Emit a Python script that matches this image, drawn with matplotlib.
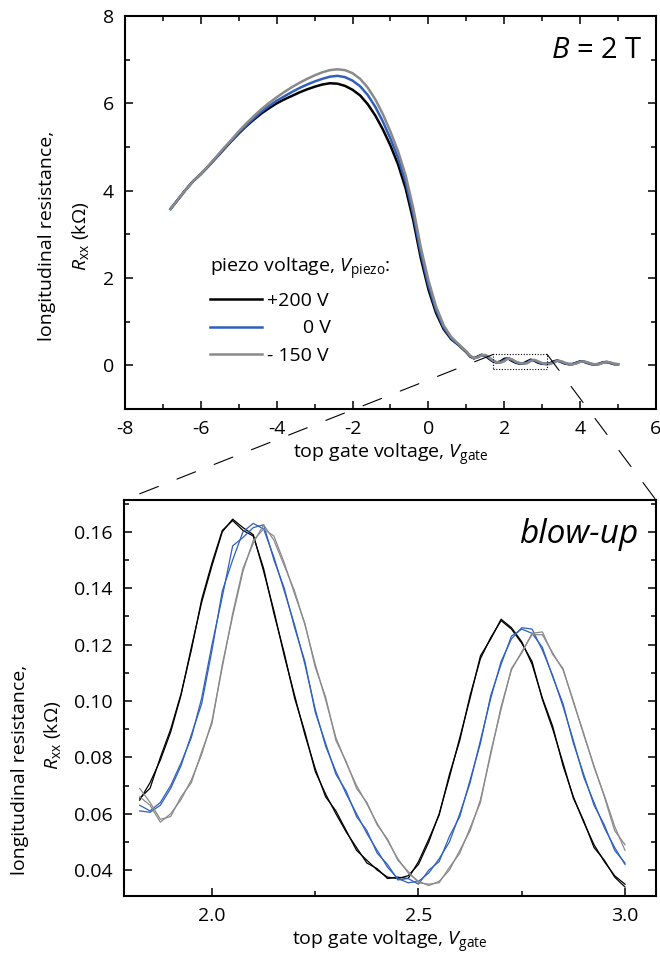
import matplotlib

matplotlib.use("Agg")
import matplotlib.pyplot as plt
from matplotlib.patches import ConnectionPatch, Rectangle
from matplotlib.ticker import FormatStrFormatter, MultipleLocator

plt.rcParams["font.family"] = ["Open Sans", "DejaVu Sans"]
plt.rcParams["mathtext.fontset"] = "custom"
plt.rcParams["mathtext.rm"] = "Open Sans"
plt.rcParams["mathtext.it"] = "Open Sans:italic"
plt.rcParams["axes.unicode_minus"] = False

# full sweep, top gate voltage (V) vs Rxx (kOhm)
gate_full = [
    -6.8, -6.6, -6.4, -6.2, -6.0, -5.8, -5.6, -5.4, -5.2, -5.0,
    -4.8, -4.6, -4.4, -4.2, -4.0, -3.8, -3.6, -3.4, -3.2, -3.0,
    -2.8, -2.6, -2.4, -2.2, -2.0, -1.8, -1.6, -1.4, -1.2, -1.0,
    -0.8, -0.6, -0.4, -0.2, 0.0, 0.2, 0.4, 0.6, 0.8, 1.0,
    1.1, 1.2, 1.3, 1.4, 1.5, 1.6, 1.7, 1.8, 1.9, 2.0,
    2.1, 2.2, 2.3, 2.4, 2.5, 2.6, 2.7, 2.8, 2.9, 3.0,
    3.1, 3.2, 3.3, 3.4, 3.5, 3.6, 3.7, 3.8, 3.9, 4.0,
    4.1, 4.2, 4.3, 4.4, 4.5, 4.6, 4.7, 4.8, 4.9, 5.0,
]
rxx_p200 = [
    3.58, 3.80, 4.02, 4.22, 4.38, 4.56, 4.75, 4.94, 5.13, 5.31,
    5.48, 5.63, 5.77, 5.89, 6.00, 6.09, 6.17, 6.25, 6.32, 6.38,
    6.43, 6.46, 6.45, 6.40, 6.31, 6.18, 5.98, 5.72, 5.40, 5.03,
    4.60, 4.05, 3.32, 2.45, 1.74, 1.20, 0.83, 0.60, 0.46, 0.30,
    0.20, 0.16, 0.20, 0.24, 0.22, 0.15, 0.09, 0.065, 0.089, 0.148,
    0.159, 0.102, 0.061, 0.040, 0.042, 0.087, 0.129, 0.101, 0.057, 0.035,
    0.030, 0.045, 0.090, 0.110, 0.075, 0.040, 0.025, 0.030, 0.060, 0.090,
    0.080, 0.050, 0.025, 0.020, 0.035, 0.070, 0.075, 0.050, 0.025, 0.025,
]
rxx_0 = [
    3.58, 3.80, 4.02, 4.22, 4.38, 4.56, 4.76, 4.95, 5.14, 5.33,
    5.50, 5.66, 5.81, 5.94, 6.06, 6.16, 6.26, 6.35, 6.43, 6.50,
    6.56, 6.61, 6.63, 6.60, 6.52, 6.39, 6.19, 5.92, 5.58, 5.19,
    4.75, 4.20, 3.46, 2.57, 1.84, 1.27, 0.87, 0.62, 0.47, 0.31,
    0.21, 0.16, 0.19, 0.235, 0.23, 0.17, 0.10, 0.065, 0.069, 0.118,
    0.163, 0.127, 0.075, 0.047, 0.036, 0.060, 0.114, 0.118, 0.073, 0.042,
    0.030, 0.035, 0.075, 0.110, 0.085, 0.048, 0.027, 0.026, 0.050, 0.085,
    0.085, 0.058, 0.030, 0.020, 0.030, 0.062, 0.078, 0.057, 0.030, 0.025,
]
rxx_m150 = [
    3.58, 3.80, 4.02, 4.22, 4.39, 4.57, 4.77, 4.97, 5.16, 5.36,
    5.54, 5.71, 5.87, 6.01, 6.14, 6.26, 6.37, 6.47, 6.56, 6.64,
    6.71, 6.76, 6.78, 6.76, 6.69, 6.56, 6.36, 6.09, 5.75, 5.35,
    4.90, 4.35, 3.60, 2.70, 1.95, 1.35, 0.92, 0.65, 0.48, 0.32,
    0.22, 0.165, 0.18, 0.23, 0.235, 0.185, 0.115, 0.07, 0.060, 0.093,
    0.156, 0.138, 0.087, 0.056, 0.036, 0.047, 0.098, 0.124, 0.088, 0.050,
    0.032, 0.030, 0.060, 0.100, 0.095, 0.058, 0.030, 0.024, 0.042, 0.078,
    0.088, 0.066, 0.036, 0.020, 0.026, 0.055, 0.078, 0.064, 0.036, 0.025,
]

# blow-up, two sweeps per piezo voltage
gate_zoom = [
    1.825, 1.850, 1.875, 1.900, 1.925, 1.950, 1.975, 2.000, 2.025, 2.050,
    2.075, 2.100, 2.125, 2.150, 2.175, 2.200, 2.225, 2.250, 2.275, 2.300,
    2.325, 2.350, 2.375, 2.400, 2.425, 2.450, 2.475, 2.500, 2.525, 2.550,
    2.575, 2.600, 2.625, 2.650, 2.675, 2.700, 2.725, 2.750, 2.775, 2.800,
    2.825, 2.850, 2.875, 2.900, 2.925, 2.950, 2.975, 3.000,
]
zoom_p200_a = [
    0.0648, 0.071, 0.079, 0.089, 0.102, 0.119, 0.135, 0.148, 0.160, 0.1645,
    0.1615, 0.159, 0.146, 0.132, 0.116, 0.102, 0.088, 0.076, 0.066, 0.061,
    0.054, 0.047, 0.0435, 0.040, 0.0375, 0.037, 0.038, 0.042, 0.050, 0.060,
    0.073, 0.087, 0.101, 0.116, 0.122, 0.129, 0.126, 0.121, 0.113, 0.101,
    0.091, 0.077, 0.066, 0.057, 0.049, 0.043, 0.038, 0.035,
]
zoom_p200_b = [
    0.0655, 0.069, 0.080, 0.090, 0.1025, 0.118, 0.136, 0.149, 0.1605, 0.164,
    0.1605, 0.1585, 0.147, 0.131, 0.117, 0.101, 0.089, 0.075, 0.067, 0.060,
    0.0535, 0.048, 0.0425, 0.0405, 0.037, 0.0375, 0.037, 0.043, 0.051, 0.0595,
    0.074, 0.086, 0.102, 0.115, 0.1225, 0.1285, 0.1255, 0.1205, 0.114, 0.1005,
    0.090, 0.078, 0.0655, 0.0575, 0.048, 0.0435, 0.0375, 0.034,
]
zoom_0_a = [
    0.061, 0.0605, 0.063, 0.069, 0.077, 0.088, 0.099, 0.118, 0.139, 0.150,
    0.160, 0.163, 0.161, 0.151, 0.139, 0.127, 0.113, 0.097, 0.084, 0.075,
    0.067, 0.060, 0.053, 0.047, 0.041, 0.037, 0.0355, 0.036, 0.039, 0.044,
    0.050, 0.060, 0.071, 0.086, 0.101, 0.114, 0.122, 0.126, 0.1255, 0.118,
    0.109, 0.098, 0.086, 0.073, 0.064, 0.055, 0.048, 0.042,
]
zoom_0_b = [
    0.063, 0.061, 0.064, 0.070, 0.078, 0.087, 0.101, 0.120, 0.137, 0.155,
    0.158, 0.1615, 0.1625, 0.150, 0.140, 0.126, 0.114, 0.096, 0.085, 0.074,
    0.068, 0.059, 0.054, 0.046, 0.042, 0.0365, 0.037, 0.035, 0.040, 0.043,
    0.052, 0.059, 0.072, 0.085, 0.102, 0.113, 0.123, 0.1255, 0.124, 0.119,
    0.1085, 0.099, 0.085, 0.074, 0.063, 0.056, 0.047, 0.0425,
]
zoom_m150_a = [
    0.066, 0.063, 0.057, 0.060, 0.065, 0.072, 0.081, 0.093, 0.112, 0.131,
    0.147, 0.156, 0.1625, 0.157, 0.148, 0.139, 0.127, 0.113, 0.1005, 0.087,
    0.078, 0.070, 0.0635, 0.0565, 0.0505, 0.044, 0.039, 0.036, 0.0345, 0.036,
    0.040, 0.047, 0.054, 0.065, 0.081, 0.098, 0.111, 0.1175, 0.1235, 0.1235,
    0.117, 0.111, 0.100, 0.088, 0.077, 0.066, 0.054, 0.049,
]
zoom_m150_b = [
    0.069, 0.064, 0.058, 0.059, 0.066, 0.071, 0.082, 0.092, 0.113, 0.130,
    0.146, 0.157, 0.161, 0.1585, 0.149, 0.138, 0.1275, 0.112, 0.1015, 0.086,
    0.0785, 0.069, 0.064, 0.056, 0.051, 0.0435, 0.0395, 0.0355, 0.035, 0.0355,
    0.041, 0.046, 0.055, 0.064, 0.082, 0.097, 0.1115, 0.117, 0.124, 0.1245,
    0.1165, 0.1115, 0.0995, 0.0885, 0.0765, 0.0665, 0.0555, 0.047,
]

piezo_labels = ["+200 V", "       0 V", "- 150 V"]
piezo_colors = ["#000000", "#2f5fbf", "#8a8a8a"]

# region of the full sweep shown in the blow-up
box_gate = (1.71, 3.13)
box_rxx = (-0.09, 0.25)

FS = 14


def _style_axis(ax, top=True):
    for spine in ax.spines.values():
        spine.set_linewidth(1.5)
    ax.tick_params(which="both", direction="in", width=1.1, labelsize=FS,
                   top=top, right=True, pad=8)
    ax.tick_params(which="major", length=6)
    ax.tick_params(which="minor", length=3.5)


fig = plt.figure(figsize=(6.6, 9.58), dpi=100)
ax_top = fig.add_axes([0.1894, 0.5731, 0.8045, 0.4102])
ax_bot = fig.add_axes([0.1879, 0.0647, 0.8060, 0.4134])

# --- full sweep
full_series = [rxx_p200, rxx_0, rxx_m150]
handles = []
for values, color in zip(full_series, piezo_colors):
    (line,) = ax_top.plot(gate_full, values, color=color, lw=1.8)
    handles.append(line)

ax_top.set_xlim(-8, 6)
ax_top.set_ylim(-1, 8)
ax_top.xaxis.set_major_locator(MultipleLocator(2))
ax_top.xaxis.set_minor_locator(MultipleLocator(1))
ax_top.yaxis.set_major_locator(MultipleLocator(2))
ax_top.yaxis.set_minor_locator(MultipleLocator(1))
_style_axis(ax_top, top=True)
ax_top.set_xlabel(r"top gate voltage, $V_{\rm gate}$", fontsize=FS, labelpad=3)

ax_top.text(0.975, 0.913, r"$B$ = 2 T", transform=ax_top.transAxes,
            ha="right", va="center", fontsize=21)

leg = ax_top.legend(handles, piezo_labels, title=r"piezo voltage, $V_{\rm piezo}$:",
                    loc="upper left", bbox_to_anchor=(0.160, 0.390), frameon=False,
                    fontsize=FS, title_fontsize=FS, handlelength=2.7,
                    handletextpad=0.25, labelspacing=0.5, borderpad=0,
                    borderaxespad=0, alignment="left")

ax_top.add_patch(Rectangle((box_gate[0], box_rxx[0]), box_gate[1] - box_gate[0],
                           box_rxx[1] - box_rxx[0], fill=False, lw=0.8,
                           ls=(0, (1, 1.5)), ec="black", zorder=5))

# --- blow-up
zoom_series = [(zoom_p200_a, zoom_p200_b), (zoom_0_a, zoom_0_b), (zoom_m150_a, zoom_m150_b)]
for (sweep_a, sweep_b), color in zip(zoom_series, piezo_colors):
    ax_bot.plot(gate_zoom, sweep_a, color=color, lw=0.9)
    ax_bot.plot(gate_zoom, sweep_b, color=color, lw=0.9)

ax_bot.set_xlim(1.787, 3.075)
ax_bot.set_ylim(0.0308, 0.1713)
ax_bot.xaxis.set_major_locator(MultipleLocator(0.5))
ax_bot.xaxis.set_minor_locator(MultipleLocator(0.25))
ax_bot.yaxis.set_major_locator(MultipleLocator(0.02))
ax_bot.yaxis.set_minor_locator(MultipleLocator(0.01))
ax_bot.xaxis.set_major_formatter(FormatStrFormatter("%.1f"))
ax_bot.yaxis.set_major_formatter(FormatStrFormatter("%.2f"))
_style_axis(ax_bot, top=False)
ax_bot.set_xlabel(r"top gate voltage, $V_{\rm gate}$", fontsize=FS, labelpad=3)

ax_bot.text(0.966, 0.912, "blow-up", transform=ax_bot.transAxes, ha="right",
            va="center", fontsize=24, style="italic")

# y labels as two rotated lines
fig.text(0.0712, 0.7537, "longitudinal resistance,", rotation=90, ha="center",
         va="center", fontsize=FS)
fig.text(0.1227, 0.7537, r"$R_{\rm xx}$ (kΩ)", rotation=90, ha="center",
         va="center", fontsize=FS)
fig.text(0.0303, 0.1962, "longitudinal resistance,", rotation=90, ha="center",
         va="center", fontsize=FS)
fig.text(0.0788, 0.2328, r"$R_{\rm xx}$ (kΩ)", rotation=90, ha="center",
         va="center", fontsize=FS)

# dashed guides from the box to the blow-up panel
for gate_x, corner in ((box_gate[0], (0, 1)), (box_gate[1], (1, 1))):
    con = ConnectionPatch(xyA=(gate_x, box_rxx[1]), coordsA=ax_top.transData,
                          xyB=corner, coordsB=ax_bot.transAxes, color="black",
                          lw=0.8, ls=(0, (18, 18)))
    fig.add_artist(con)

fig.savefig("out.png", dpi=100)
